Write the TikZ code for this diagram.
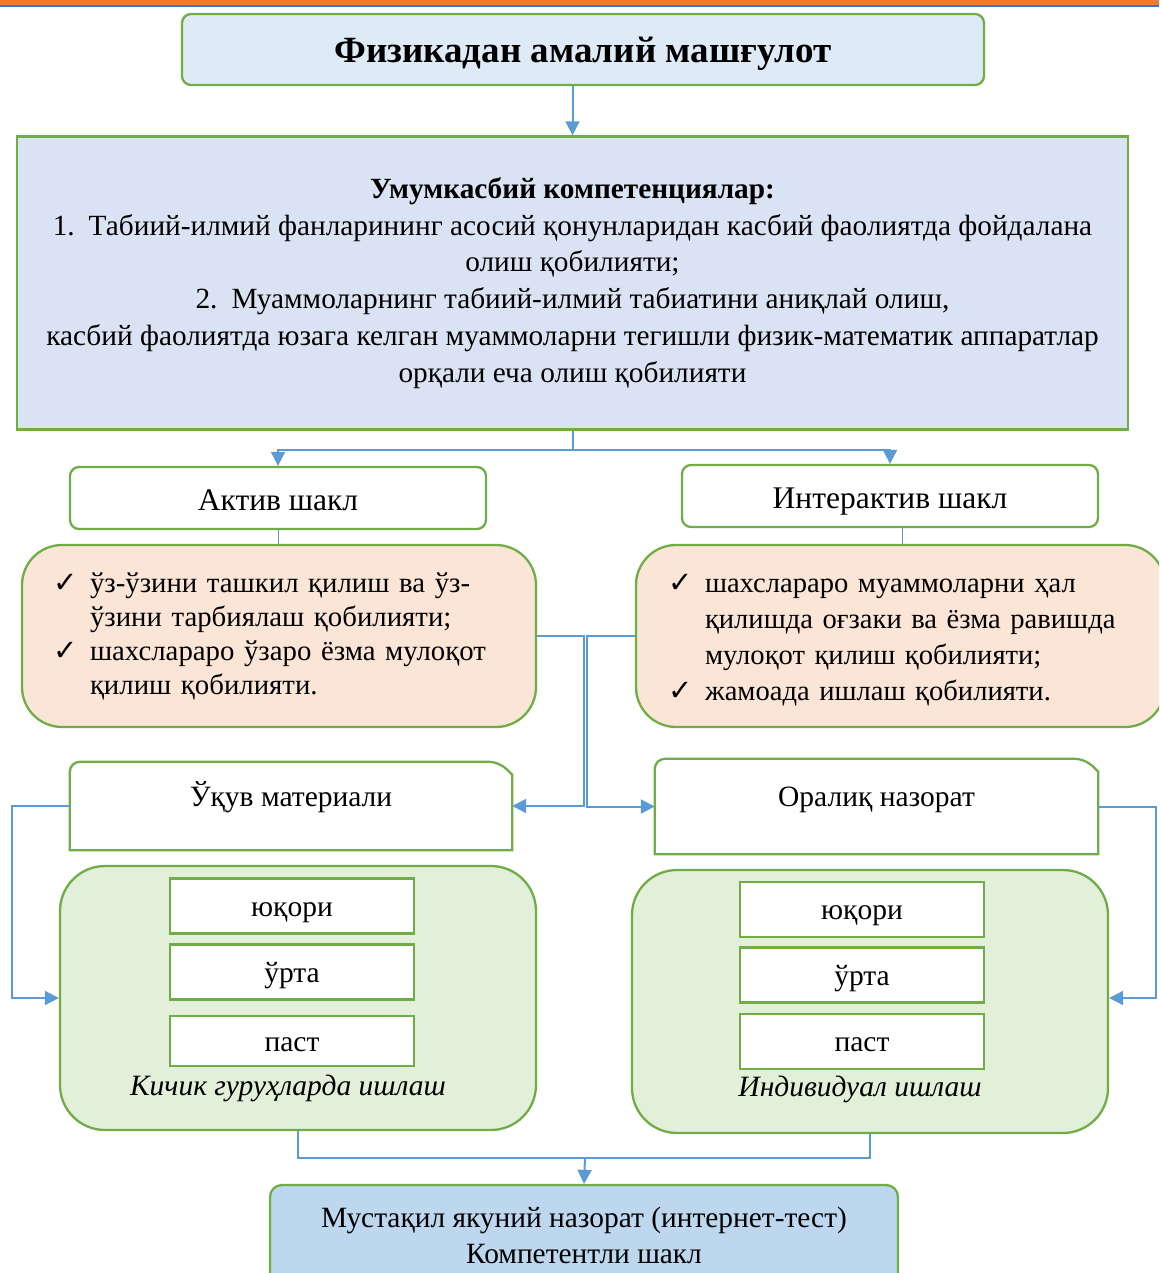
\documentclass[tikz,border=0pt]{standalone}
\usepackage{fontspec}
\setmainfont{Liberation Serif}
\newfontfamily\haken{DejaVu Sans}
\usetikzlibrary{arrows.meta}
\usetikzlibrary{calc}
\usetikzlibrary{positioning}
\definecolor{rand}{HTML}{70AD47}
\definecolor{pfeilblau}{HTML}{5B9BD5}
\definecolor{kopfblau}{HTML}{DEEBF7}
\definecolor{kompblau}{HTML}{DAE3F3}
\definecolor{rosa}{HTML}{FBE5D6}
\definecolor{hellgruen}{HTML}{E2F0D9}
\definecolor{schlussblau}{HTML}{BDD7EE}
\definecolor{balken}{HTML}{ED7D31}
\definecolor{balkenblau}{HTML}{4472C4}
\newcommand{\chk}{\makebox[37pt][l]{\haken\bfseries\fontsize{29}{29}\selectfont ✓}}
\newcommand{\einr}{\hspace*{37pt}}
\newcommand{\eckrahmen}[1]{%
  \draw[rahmen] (#1.south west) [rounded corners=10pt] -- (#1.north west)
    -- ([xshift=-13pt]#1.north east) [sharp corners]
    -- ([yshift=-13pt]#1.north east) -- (#1.south east) -- cycle;}
\tikzset{
    %Pfeilspitze
    >={Triangle[length=14pt,width=14pt]},
    %Rahmen fuer alle Kaesten
    rahmen/.style={draw=rand, line width=2.3pt},
    titel/.style={
           rahmen, rounded corners=9pt, fill=kopfblau,
           minimum width=802pt, minimum height=71pt,
           text height=27pt, text depth=1pt,
           font=\fontsize{37}{42}\selectfont\bfseries},
    kompetenz/.style={
           rahmen, fill=kompblau,
           minimum width=1111pt, minimum height=293pt, align=center,
           font=\fontsize{29.3}{36.8}\selectfont},
    form/.style={
           rahmen, rounded corners=9pt, fill=white,
           minimum width=416pt, minimum height=62pt,
           text height=26pt, text depth=2pt,
           font=\fontsize{31.5}{36}\selectfont},
    liste/.style={
           rahmen, rounded corners=40pt, fill=rosa,
           minimum height=182pt, align=left, inner xsep=31pt,
           font=\fontsize{28.8}{34}\selectfont},
    modul/.style={
           minimum width=442pt, minimum height=88pt,
           text height=10pt, text depth=10pt,
           font=\fontsize{29.5}{34}\selectfont},
    gruppe/.style={
           rahmen, rounded corners=45pt, fill=hellgruen,
           minimum width=476pt, minimum height=264pt},
    stufe/.style={
           rahmen, fill=white, minimum width=244pt, minimum height=55pt,
           text height=22pt, text depth=2pt,
           font=\fontsize{29.5}{34}\selectfont},
    gruppentext/.style={font=\fontsize{29.5}{34}\selectfont\itshape},
    schluss/.style={
           rahmen, rounded corners=12pt, fill=schlussblau,
           minimum width=628pt, minimum height=100pt, align=center,
           font=\fontsize{29.4}{36}\selectfont},
    % Verbindungen
    pfeil/.style={->, draw=pfeilblau, line width=2pt},
    linie/.style={draw=pfeilblau, line width=2pt},
    duenn/.style={draw=pfeilblau, line width=1pt},
}

\begin{document}
\begin{tikzpicture}[x=1pt,y=-1pt]
\clip (0,0) rectangle (1159,1273);

% Kopfleiste
\fill[balken] (0,0) rectangle (1159,5);
\fill[balkenblau] (0,5) rectangle (1159,7);

% Titel
\node[titel] (titel) at (583,49.5) {Физикадан амалий машғулот};

% Kompetenzen
\node[kompetenz] (komp) at (572.5,283)
  {\textbf{Умумкасбий компетенциялар:}\\
   1.\hspace{14pt}Табиий-илмий фанларининг асосий қонунларидан касбий фаолиятда фойдалана\\
   олиш қобилияти;\\
   2.\hspace{14pt}Муаммоларнинг табиий-илмий табиатини аниқлай олиш,\\
   касбий фаолиятда юзага келган муаммоларни тегишли физик-математик аппаратлар\\
   орқали еча олиш қобилияти};

% Formen
\node[form] (aktiv) at (278,498) {Актив шакл};
\node[form] (inter) at (890,496) {Интерактив шакл};

% Listen
\node[liste, text width=452pt] (listeA) at (279,636)
  {\chk ўз-ўзини ташкил қилиш ва ўз-\\
   \einr ўзини тарбиялаш қобилияти;\\
   \chk шахслараро ўзаро ёзма мулоқот\\
   \einr қилиш қобилияти.};
\node[liste, text width=465pt, inner xsep=32pt, font=\fontsize{28.6}{36}\selectfont] (listeB) at (900.5,636)
  {\rule{0pt}{27pt}\chk шахслараро муаммоларни ҳал\\
   \einr қилишда оғзаки ва ёзма равишда\\
   \einr мулоқот қилиш қобилияти;\\
   \chk жамоада ишлаш қобилияти.};

% Module mit abgeschnittener Ecke
\node[modul] (ukuv) at (291,806) {Ўқув материали};
\node[modul, minimum width=443pt, minimum height=95pt] (oralik) at (876.5,806.5) {Оралиқ назорат};
\eckrahmen{ukuv}
\eckrahmen{oralik}

% Gruppen
\node[gruppe] (gruppeA) at (298,998) {};
\node[gruppe, minimum height=263pt] (gruppeB) at (870,1001.5) {};
\node[stufe] (hochA) at (292,906) {юқори};
\node[stufe] (mitteA) at (292,972) {ўрта};
\node[stufe, minimum height=50pt] (tiefA) at (292,1041) {паст};
\node[stufe] (hochB) at (862,909.5) {юқори};
\node[stufe] (mitteB) at (862,975) {ўрта};
\node[stufe] (tiefB) at (862,1041.5) {паст};
\node[gruppentext] (kleinA) at (288,1088) {Кичик гуруҳларда ишлаш};
\node[gruppentext] (einzelB) at (860,1089) {Индивидуал ишлаш};

% Abschluss
\node[schluss] (ende) at (584,1235)
  {Мустақил якуний назорат (интернет-тест)\\ Компетентли шакл};

% Pfeile
\draw[pfeil] (titel.south -| komp.north) -- (komp.north);
\coordinate (teil) at ($(komp.south)+(0,19)$);
\draw[linie] (komp.south) -- (teil);
\draw[pfeil] (teil) -| (aktiv.north);
\draw[pfeil] (teil) -| (inter.north);
\draw[duenn] (aktiv.south) -- (aktiv.south |- listeA.north);
\draw[duenn] ([xshift=12pt]inter.south) -- ([xshift=12pt]inter.south |- listeB.north);
\draw[pfeil] (listeA.east) -- ++(47,0) |- (ukuv.east);
\draw[pfeil] (listeB.west) -- ++(-48,0) |- (oralik.west);
\draw[pfeil] (ukuv.west) -- ++(-58,0) |- (gruppeA.west);
\draw[pfeil] (oralik.east) -- ++(58,0) |- ([yshift=3.5pt]gruppeB.east);
\coordinate (sammel) at (585,1158);
\draw[linie] (gruppeA.south) |- (sammel) -| (gruppeB.south);
\draw[pfeil] (sammel) -- (ende.north);
\end{tikzpicture}
\end{document}
